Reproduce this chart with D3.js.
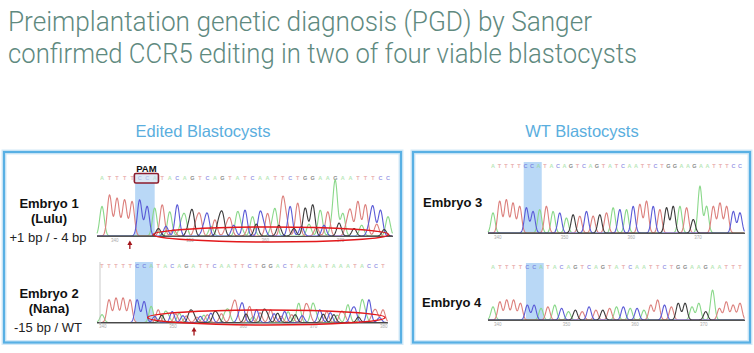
<!DOCTYPE html>
<html>
<head>
<meta charset="utf-8">
<script src="https://cdn.jsdelivr.net/npm/d3@7"></script>
<style>
  body { margin: 0; background: #fff; }
  svg { display: block; }
</style>
</head>
<body>
<svg id="slide"></svg>
<script>
// ---- data ----
var titleLines = ["Preimplantation genetic diagnosis (PGD) by Sanger",
                  "confirmed CCR5 editing in two of four viable blastocysts"];
var panelTitles = ["Edited Blastocysts", "WT Blastocysts"];
var embryoNames = ["Embryo 1", "Embryo 2", "Embryo 3", "Embryo 4"];
var embryoNicknames = ["(Lulu)", "(Nana)", "", ""];
var embryoGenotypes = ["+1 bp / - 4 bp", "-15 bp / WT", "", ""];

// base calls printed above each trace
var e1Calls = "ATTTTCCATACAGTCAGTATCAATTCTGGAAGAATTTCC";
var e2Calls = "TTTTTCCATACAGATTCAATTCTGGACTAAAATAAATACCT";
var e3Calls = "ATTTTCCATACAGTCAGTATCAATTCTGGAAGAATTTCC";
var e4Calls = "ATTTTCCATACAGTCAGTATCAATTCTGGAAGAATTT";

// main peaks: base and relative height (tallest = 100)
var e1Bases = "ATTTTCCATACAGTCTGTACACTATCTGGATAATTTCCA";
var e1Heights = [55,76,70,67,64,67,55,52,58,45,58,36,45,36,39,30,39,30,42,48,
                 36,42,42,48,67,55,61,52,58,48,45,100,42,45,64,58,52,48,36];
var e2Bases = "ATTTTCCATACATGCTGTATCTCGTGCTATACTGTACACTT";
var e2Heights = [32,93,100,100,93,93,86,66,52,41,45,38,27,32,25,32,38,36,45,79,
                 73,66,52,45,52,38,45,32,79,66,73,52,45,32,38,73,52,86,93,45,52];
var e3Bases = "ATTTTCCATACAGTCTGTACACTTCTGGATGAATTTCC";
var e3Heights = [43,68,71,64,57,54,46,50,57,46,43,32,39,36,46,36,39,43,54,50,
                 50,57,61,68,57,50,54,57,57,54,29,100,57,57,64,57,46,43];
var e4Bases = "ATTTTCCATACAGTCTGTACACATTCTGGAAGATTTT";
var e4Heights = [44,61,67,67,56,50,50,39,44,50,39,28,33,28,44,33,33,39,44,44,
                 39,39,33,50,67,50,44,56,56,44,56,28,100,39,61,50,56];

// secondary (mixed) peaks after the cut site in the edited embryos
var e1MixStart = 7.5;
var e1MixBases = "GCTAGTCAGTCATGCAGTGCATCAGTGACTG";
var e1MixHeights = [14,18,12,20,16,22,14,18,24,15,20,13,18,22,16,12,20,25,14,18,
                    22,16,20,15,24,18,14,20,16,22,12];
var e2MixStart = 7.5;
var e2MixBases = "CGATCGTACGATCGATGCTAGCTAGCATCGATC";
var e2MixHeights = [25,30,20,35,28,40,22,30,38,25,32,42,28,35,24,40,30,36,26,44,
                    32,28,38,24,34,40,30,26,36,22,30,28,20];

// position labels under the traces
var tickLabels = [[340,350,360,370], [340,350,360,370,380], [340,350,360,370], [340,350,360,370]];
var firstBase = [338.3, 339.9, 339.3, 339.3];

// annotations, in peak-index units
var highlights = [[4.4,7.0], [4.7,7.25], [4.6,7.3], [4.8,7.4]];
var pamRange = [4.3, 7.5];
var cutArrows = [3.7, 13.1];
var mixedRegions = [[6.8,38.1], [6.5,40.3]];

// ---- drawing ----
var width = 754, height = 353;
var baseColors = {A: "#8ad88a", T: "#dc807d", C: "#5a5ad6", G: "#3c3c3c"};
var font = "'Liberation Sans', Arial, sans-serif";

var svg = d3.select("#slide")
    .attr("width", width)
    .attr("height", height);

// title
svg.selectAll("text.title")
   .data(titleLines)
   .enter().append("text")
   .attr("class", "title")
   .attr("x", 8)
   .attr("y", function(d, i) { return 31 + i * 32; })
   .attr("font-family", "Roboto, 'Liberation Sans', sans-serif")
   .attr("font-weight", 300)
   .attr("font-size", 28)
   .attr("fill", "#5f8a7f")
   .attr("textLength", function(d, i) { return i == 0 ? 584 : 629; })
   .attr("lengthAdjust", "spacingAndGlyphs")
   .text(function(d) { return d; });

// panel headings and frames
var panels = [{cx: 203, x: 4, w: 397}, {cx: 582, x: 413, w: 337}];
panels.forEach(function(p, i) {
  svg.append("text")
     .attr("x", p.cx).attr("y", 137)
     .attr("text-anchor", "middle")
     .attr("font-family", font)
     .attr("font-size", 16.5)
     .attr("fill", "#5aaede")
     .text(panelTitles[i]);
  svg.append("rect")
     .attr("x", p.x).attr("y", 152).attr("width", p.w).attr("height", 190.5)
     .attr("fill", "none").attr("stroke", "#d3e9f7").attr("stroke-width", 5);
  svg.append("rect")
     .attr("x", p.x).attr("y", 152).attr("width", p.w).attr("height", 190.5)
     .attr("fill", "none").attr("stroke", "#58b0e4").attr("stroke-width", 2.2);
});

var layout = [
  {x0: 102, x1: 388, base: 236,   top: 182, letterY: 180, tickY: 241.5, ellY: 234.5},
  {x0: 102, x1: 383, base: 322.5, top: 298, letterY: 268, tickY: 327.5, ellY: 317.5},
  {x0: 493, x1: 740, base: 233,   top: 186, letterY: 168, tickY: 238.5},
  {x0: 493, x1: 740, base: 320,   top: 290, letterY: 269, tickY: 325.5}
];
var traces = [
  {calls: e1Calls, bases: e1Bases, heights: e1Heights, mixStart: e1MixStart, mixBases: e1MixBases, mixHeights: e1MixHeights},
  {calls: e2Calls, bases: e2Bases, heights: e2Heights, mixStart: e2MixStart, mixBases: e2MixBases, mixHeights: e2MixHeights},
  {calls: e3Calls, bases: e3Bases, heights: e3Heights},
  {calls: e4Calls, bases: e4Bases, heights: e4Heights}
];

traces.forEach(function(t, k) {
  var lay = layout[k];
  var g = svg.append("g").attr("class", "trace");
  var n = t.heights.length;

  var x = d3.scaleLinear().domain([0, n - 1]).range([lay.x0, lay.x1]);
  var y = d3.scaleLinear().domain([0, 100]).range([lay.base, lay.top]);
  var xl = d3.scaleLinear().domain([0, t.calls.length - 1]).range([lay.x0, lay.x1]);
  var sigma = (x(1) - x(0)) * 0.3;

  // blue box around the PAM site
  var hl = highlights[k];
  g.append("rect")
   .attr("x", x(hl[0])).attr("width", x(hl[1]) - x(hl[0]))
   .attr("y", k == 0 ? lay.letterY + 3 : lay.letterY - 6)
   .attr("height", k == 0 ? lay.base - lay.letterY - 3 : lay.base - lay.letterY + 6)
   .attr("fill", "#b9d8f6");

  // letters row
  g.selectAll("text.call")
   .data(t.calls.split(""))
   .enter().append("text")
   .attr("class", "call")
   .attr("x", function(d, i) { return xl(i); })
   .attr("y", lay.letterY)
   .attr("text-anchor", "middle")
   .attr("font-family", font)
   .attr("font-weight", "bold")
   .attr("font-size", 5.5)
   .attr("fill", function(d) { return baseColors[d]; })
   .attr("opacity", 0.6)
   .text(function(d) { return d; });

  // gather peaks: [position index, height, base]
  var peaks = t.bases.split("").map(function(b, i) { return [i, t.heights[i], b]; });
  if (t.mixBases) {
    t.mixBases.split("").forEach(function(b, i) {
      peaks.push([t.mixStart + i, t.mixHeights[i], b]);
    });
  }

  var xs = d3.range(lay.x0 - 5, lay.x1 + 5, 0.5);
  var line = d3.line().curve(d3.curveLinear);
  ["A", "T", "C", "G"].forEach(function(b) {
    var mine = peaks.filter(function(p) { return p[2] == b; });
    var pts = xs.map(function(px) {
      var s = 0;
      mine.forEach(function(p) {
        var dx = px - x(p[0]);
        s += p[1] * Math.exp(-dx * dx / (2 * sigma * sigma));
      });
      return [px, y(s)];
    });
    g.append("path")
     .attr("d", line(pts))
     .attr("fill", "none")
     .attr("stroke", baseColors[b])
     .attr("stroke-width", 1.1)
     .attr("stroke-linejoin", "round");
  });

  // baseline
  g.append("line")
   .attr("x1", lay.x0 - 5).attr("x2", lay.x1 + 5)
   .attr("y1", lay.base + 0.5).attr("y2", lay.base + 0.5)
   .attr("stroke", "#555").attr("stroke-width", 1);
  if (k == 1) {
    g.append("line")
     .attr("x1", lay.x0 - 2).attr("x2", lay.x0 - 2)
     .attr("y1", lay.letterY - 6).attr("y2", lay.base + 0.5)
     .attr("stroke", "#bbb").attr("stroke-width", 0.8);
  }

  // position ticks
  g.selectAll("text.tick")
   .data(tickLabels[k])
   .enter().append("text")
   .attr("class", "tick")
   .attr("x", function(d) { return x(d - firstBase[k]); })
   .attr("y", lay.tickY)
   .attr("text-anchor", "middle")
   .attr("font-family", font)
   .attr("font-size", 4.5)
   .attr("fill", "#aaa")
   .text(function(d) { return d; });

  // PAM label
  if (k == 0) {
    g.append("rect")
     .attr("x", x(pamRange[0])).attr("width", x(pamRange[1]) - x(pamRange[0]))
     .attr("y", lay.letterY - 6.5).attr("height", 9.5)
     .attr("rx", 1.5)
     .attr("fill", "#c4d8ee").attr("fill-opacity", 0.6)
     .attr("stroke", "#8c1d2e").attr("stroke-width", 1.6);
    g.append("text")
     .attr("x", (x(pamRange[0]) + x(pamRange[1])) / 2)
     .attr("y", lay.letterY - 8.5)
     .attr("text-anchor", "middle")
     .attr("font-family", font)
     .attr("font-weight", "bold")
     .attr("font-size", 9.5)
     .attr("fill", "#111")
     .text("PAM");
  }

  // mixed-sequence ellipse and cut arrow for the edited embryos
  if (k < 2) {
    var r = mixedRegions[k];
    g.append("ellipse")
     .attr("cx", (x(r[0]) + x(r[1])) / 2)
     .attr("cy", lay.ellY)
     .attr("rx", (x(r[1]) - x(r[0])) / 2)
     .attr("ry", 7.5)
     .attr("fill", "none")
     .attr("stroke", "#e3191c")
     .attr("stroke-width", 1.5);
    var ax = x(cutArrows[k]);
    g.append("line")
     .attr("x1", ax).attr("x2", ax)
     .attr("y1", lay.base + 13).attr("y2", lay.base + 8)
     .attr("stroke", "#a3151a").attr("stroke-width", 1.3);
    g.append("path")
     .attr("d", d3.line()([[ax - 2.5, lay.base + 9], [ax, lay.base + 4.5], [ax + 2.5, lay.base + 9]]) + "Z")
     .attr("fill", "#a3151a");
  }
});

// embryo labels
var labelPos = [
  {x: 49, y: 208, anchor: "middle"},
  {x: 49, y: 298, anchor: "middle"},
  {x: 423, y: 207, anchor: "start"},
  {x: 422, y: 307, anchor: "start"}
];
labelPos.forEach(function(p, i) {
  var t = svg.append("g").attr("font-family", font).attr("fill", "#111")
             .attr("text-anchor", p.anchor);
  t.append("text").attr("x", p.x).attr("y", p.y)
   .attr("font-weight", "bold").attr("font-size", 13)
   .text(embryoNames[i]);
  if (embryoNicknames[i]) {
    t.append("text").attr("x", p.x).attr("y", p.y + 15)
     .attr("font-weight", "bold").attr("font-size", 13)
     .text(embryoNicknames[i]);
    t.append("text").attr("x", p.x - 1).attr("y", p.y + 34)
     .attr("font-size", 13).attr("fill", "#222")
     .text(embryoGenotypes[i]);
  }
});
</script>
</body>
</html>
